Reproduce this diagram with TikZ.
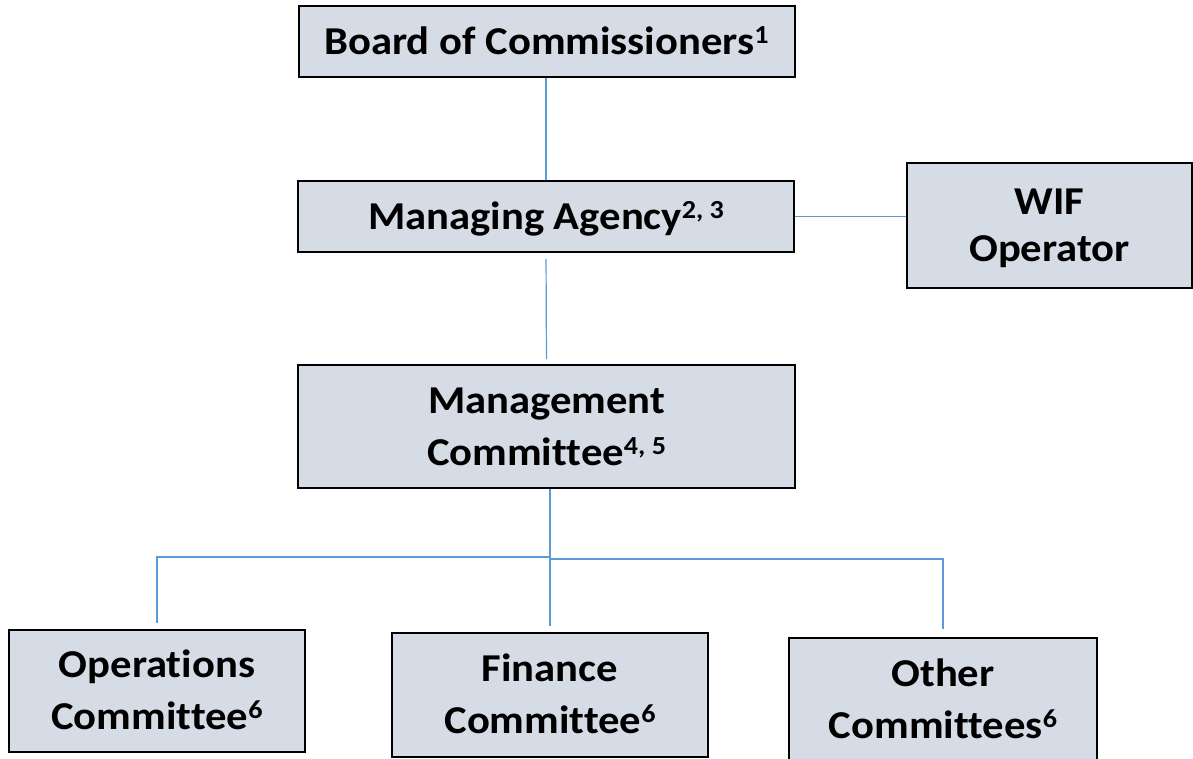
\documentclass[tikz,border=0pt]{standalone}
\usepackage{fontspec}
\setmainfont{Carlito}[FakeStretch=1.08, Ligatures=NoCommon]
\definecolor{boxfill}{HTML}{D6DCE5}
\definecolor{linkblue}{HTML}{5B9BD5}
\newcommand\supnote[1]{\raisebox{11pt}{\fontsize{26}{26}\selectfont #1}}
\tikzset{
  orgbox/.style={draw=black, line width=2pt, fill=boxfill, inner sep=0pt, align=center,
    text depth=0pt},
  oneline/.style={font=\fontsize{39.5}{52}\selectfont\bfseries, text height=25.4pt},
  twoline/.style={font=\fontsize{39.5}{52}\selectfont\bfseries, text height=77.4pt},
  twolinewif/.style={font=\fontsize{39.5}{47}\selectfont\bfseries, text height=72.4pt},
  link/.style={draw=linkblue, line width=1.2pt}
}
\begin{document}
\begin{tikzpicture}[x=1pt,y=-1pt]
\useasboundingbox (0,0) rectangle (1193,759);
\node[orgbox, oneline, minimum width=496pt, minimum height=71pt] (board) at (546.5,41.5) {Board of Commissioners\supnote{1}};
\node[orgbox, oneline, minimum width=496pt, minimum height=71pt] (ma) at (546,216.5) {Managing Agency\supnote{2, 3}};
\node[orgbox, twolinewif, minimum width=285pt, minimum height=125pt] (wif) at (1049.5,225.5) {WIF\\Operator};
\node[orgbox, twoline, minimum width=497pt, minimum height=123pt] (mgmt) at (546.5,426.5) {Management\\Committee\supnote{4, 5}};
\node[orgbox, twoline, minimum width=296pt, minimum height=122pt] (ops) at (157,691) {Operations\\Committee\supnote{6}};
\node[orgbox, twoline, minimum width=316pt, minimum height=124pt] (fin) at (550,695) {Finance\\Committee\supnote{6}};
\node[orgbox, twoline, minimum width=308pt, minimum height=124pt] (other) at (943,700) {Other\\Committees\supnote{6}};
\coordinate (j1) at (550,557);
\coordinate (j2) at (550,559);
\draw[link] (board.south -| ma.north) -- (ma.north);
\draw[link] (ma.east) -- (wif.west |- ma.east);
\draw[link, shorten <=6pt, shorten >=5pt] (ma.south) -- (mgmt.north);
\draw[link] (mgmt.south -| j1) -- (j2);
\draw[link, shorten >=6pt] (j1) -- (j1 -| ops.north) -- (ops.north);
\draw[link, shorten >=6pt] (j1) -- (fin.north);
\draw[link, shorten >=8pt] (j2) -- (j2 -| other.north) -- (other.north);
\end{tikzpicture}
\end{document}
